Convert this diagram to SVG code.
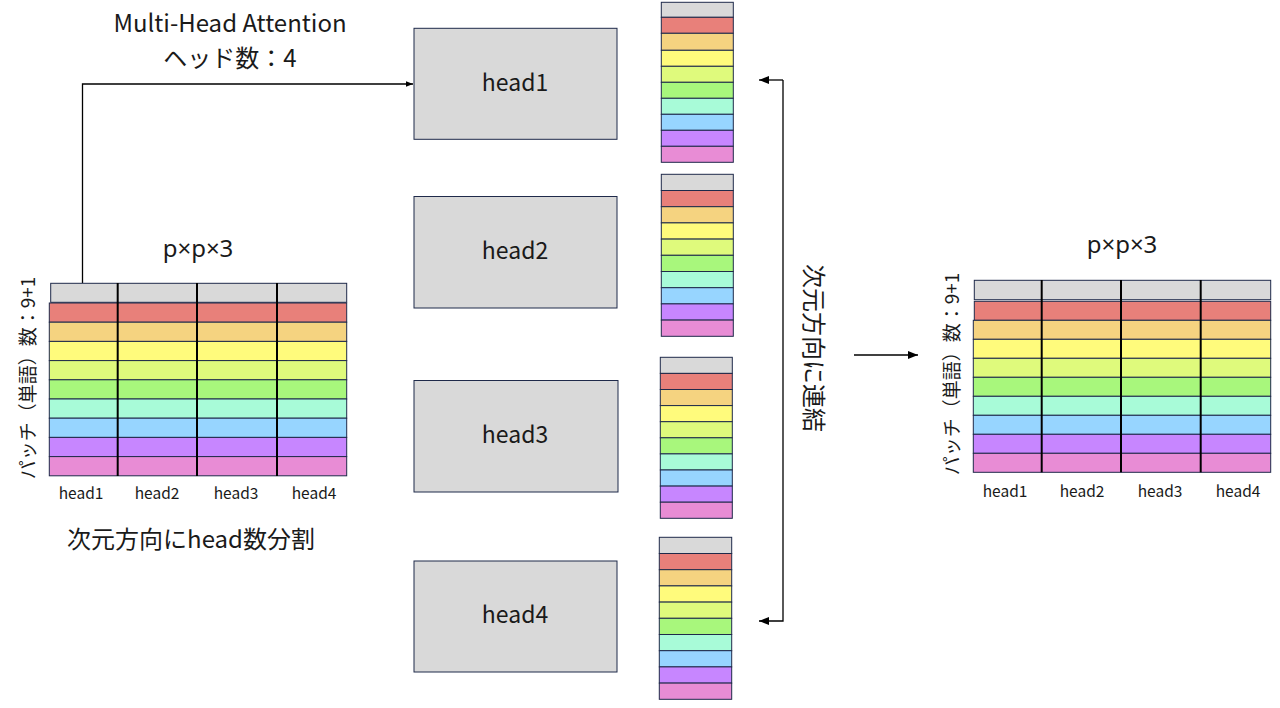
<svg xmlns="http://www.w3.org/2000/svg" width="1280" height="708" viewBox="0 0 1280 708">
<style>
text{font-family:"Noto Sans CJK JP","Noto Sans",sans-serif;fill:#1a1a1a}
.box{fill:#d9d9d9;stroke:#1f2a4a;stroke-width:1}
.c{stroke:#1f2a4a;stroke-width:1}
.g{fill:#d9d9d9}.r1{fill:#e8807a}.r2{fill:#f5d380}.r3{fill:#fffb7c}.r4{fill:#dffa7c}.r5{fill:#a8f77c}.r6{fill:#a8fbd8}.r7{fill:#97d5ff}.r8{fill:#c786ff}.r9{fill:#e88cd5}
.sep{stroke:#000;stroke-width:2}
.conn{fill:none;stroke:#000;stroke-width:1.3}
.lbl{font-size:15.5px}
.big{font-size:24px}
.hd{font-size:23px}
.ppx{font-family:"Noto Sans",sans-serif;font-size:24px}
.vt{font-size:19px}
</style>
<defs>
<marker id="ah" viewBox="0 0 10 10" refX="10" refY="5" markerWidth="7" markerHeight="7" orient="auto" markerUnits="userSpaceOnUse">
<path d="M0,1 L10,5 L0,9 Z" fill="#000"/>
</marker>
<marker id="ah2" viewBox="0 0 10 10" refX="10" refY="5" markerWidth="10" markerHeight="10" orient="auto" markerUnits="userSpaceOnUse">
<path d="M0,1 L10,5 L0,9 Z" fill="#000"/>
</marker>
</defs>

<text x="230" y="32" text-anchor="middle" class="big">Multi-Head Attention</text>
<text x="230" y="67" text-anchor="middle" class="big">ヘッド数：4</text>

<g id="connectors">
<polyline class="conn" points="82.5,283 82.5,84 413,84" marker-end="url(#ah)"/>
<polyline class="conn" points="783,80 783,621 759,621" marker-end="url(#ah2)"/>
<line class="conn" x1="783" y1="80" x2="759" y2="80" marker-end="url(#ah2)"/>
<line class="conn" x1="854" y1="355" x2="918" y2="355" marker-end="url(#ah2)"/>
</g>

<g id="input-table">
<text x="198" y="257" text-anchor="middle" class="ppx">p×p×3</text>
<text transform="translate(35,378) rotate(-90)" text-anchor="middle" class="vt">パッチ（単語）数：9+1</text>
<rect class="c g" x="50.7" y="283.3" width="296" height="19"/>
<rect class="c r1" x="49.3" y="303" width="297.4" height="19.2"/>
<rect class="c r2" x="49.3" y="322.2" width="297.4" height="19.2"/>
<rect class="c r3" x="49.3" y="341.4" width="297.4" height="19.2"/>
<rect class="c r4" x="49.3" y="360.6" width="297.4" height="19.2"/>
<rect class="c r5" x="49.3" y="379.8" width="297.4" height="19.2"/>
<rect class="c r6" x="49.3" y="399" width="297.4" height="19.2"/>
<rect class="c r7" x="49.3" y="418.2" width="297.4" height="19.2"/>
<rect class="c r8" x="49.3" y="437.4" width="297.4" height="19.2"/>
<rect class="c r9" x="49.3" y="456.6" width="297.4" height="19.2"/>
<line class="sep" x1="117.7" y1="283" x2="117.7" y2="476"/>
<line class="sep" x1="197" y1="283" x2="197" y2="476"/>
<line class="sep" x1="277" y1="283" x2="277" y2="476"/>
<text x="81" y="499" text-anchor="middle" class="lbl">head1</text>
<text x="157" y="499" text-anchor="middle" class="lbl">head2</text>
<text x="236" y="499" text-anchor="middle" class="lbl">head3</text>
<text x="314" y="499" text-anchor="middle" class="lbl">head4</text>
<text x="191" y="548" text-anchor="middle" class="big">次元方向にhead数分割</text>
</g>

<g id="head1"><rect class="box" x="414" y="28.3" width="203" height="111"/><text x="515" y="91" text-anchor="middle" class="hd">head1</text></g>
<g id="head2"><rect class="box" x="414" y="196.5" width="203" height="111.5"/><text x="515" y="259" text-anchor="middle" class="hd">head2</text></g>
<g id="head3"><rect class="box" x="414" y="380.5" width="204" height="111.5"/><text x="515" y="443" text-anchor="middle" class="hd">head3</text></g>
<g id="head4"><rect class="box" x="414" y="561" width="203" height="111"/><text x="515" y="623" text-anchor="middle" class="hd">head4</text></g>

<g id="stack1" transform="translate(661.3,2.3)">
<rect class="c g" x="0" y="0" width="72" height="15"/>
<rect class="c r1" x="0" y="15" width="72" height="16"/>
<rect class="c r2" x="0" y="31" width="72" height="17"/>
<rect class="c r3" x="0" y="48" width="72" height="16"/>
<rect class="c r4" x="0" y="64" width="72" height="16"/>
<rect class="c r5" x="0" y="80" width="72" height="16"/>
<rect class="c r6" x="0" y="96" width="72" height="16"/>
<rect class="c r7" x="0" y="112" width="72" height="16"/>
<rect class="c r8" x="0" y="128" width="72" height="16"/>
<rect class="c r9" x="0" y="144" width="72" height="16"/>
</g>
<g id="stack2" transform="translate(661.3,174.3)">
<rect class="c g" x="0" y="0" width="72" height="16.2"/>
<rect class="c r1" x="0" y="16.2" width="72" height="16.2"/>
<rect class="c r2" x="0" y="32.4" width="72" height="16.2"/>
<rect class="c r3" x="0" y="48.6" width="72" height="16.2"/>
<rect class="c r4" x="0" y="64.8" width="72" height="16.2"/>
<rect class="c r5" x="0" y="81" width="72" height="16.2"/>
<rect class="c r6" x="0" y="97.2" width="72" height="16.2"/>
<rect class="c r7" x="0" y="113.4" width="72" height="16.2"/>
<rect class="c r8" x="0" y="129.6" width="72" height="16.2"/>
<rect class="c r9" x="0" y="145.8" width="72" height="16.2"/>
</g>
<g id="stack3" transform="translate(660.3,357.3)">
<rect class="c g" x="0" y="0" width="72" height="16.1"/>
<rect class="c r1" x="0" y="16.1" width="72" height="16.1"/>
<rect class="c r2" x="0" y="32.2" width="72" height="16.1"/>
<rect class="c r3" x="0" y="48.3" width="72" height="16.1"/>
<rect class="c r4" x="0" y="64.4" width="72" height="16.1"/>
<rect class="c r5" x="0" y="80.5" width="72" height="16.1"/>
<rect class="c r6" x="0" y="96.6" width="72" height="16.1"/>
<rect class="c r7" x="0" y="112.7" width="72" height="16.1"/>
<rect class="c r8" x="0" y="128.8" width="72" height="16.1"/>
<rect class="c r9" x="0" y="144.9" width="72" height="16.1"/>
</g>
<g id="stack4" transform="translate(659.3,537.3)">
<rect class="c g" x="0" y="0" width="72.4" height="16.2"/>
<rect class="c r1" x="0" y="16.2" width="72.4" height="16.2"/>
<rect class="c r2" x="0" y="32.4" width="72.4" height="16.2"/>
<rect class="c r3" x="0" y="48.6" width="72.4" height="16.2"/>
<rect class="c r4" x="0" y="64.8" width="72.4" height="16.2"/>
<rect class="c r5" x="0" y="81" width="72.4" height="16.2"/>
<rect class="c r6" x="0" y="97.2" width="72.4" height="16.2"/>
<rect class="c r7" x="0" y="113.4" width="72.4" height="16.2"/>
<rect class="c r8" x="0" y="129.6" width="72.4" height="16.2"/>
<rect class="c r9" x="0" y="145.8" width="72.4" height="16.2"/>
</g>

<text transform="translate(805,348) rotate(90)" text-anchor="middle" class="big">次元方向に連結</text>

<g id="output-table">
<text x="1122" y="253" text-anchor="middle" class="ppx">p×p×3</text>
<text transform="translate(959,374) rotate(-90)" text-anchor="middle" class="vt">パッチ（単語）数：9+1</text>
<rect class="c g" x="974.3" y="280.3" width="296.4" height="19.4"/>
<rect class="c r1" x="974.3" y="301.3" width="296.4" height="19"/>
<rect class="c r2" x="973.3" y="320.3" width="297.4" height="19"/>
<rect class="c r3" x="973.3" y="339.3" width="297.4" height="19"/>
<rect class="c r4" x="973.3" y="358.3" width="297.4" height="19"/>
<rect class="c r5" x="973.3" y="377.3" width="297.4" height="19"/>
<rect class="c r6" x="973.3" y="396.3" width="297.4" height="19"/>
<rect class="c r7" x="973.3" y="415.3" width="297.4" height="19"/>
<rect class="c r8" x="973.3" y="434.3" width="297.4" height="19"/>
<rect class="c r9" x="973.3" y="453.3" width="297.4" height="19"/>
<line class="sep" x1="1041.7" y1="280" x2="1041.7" y2="472.3"/>
<line class="sep" x1="1121" y1="280" x2="1121" y2="472.3"/>
<line class="sep" x1="1200.7" y1="280" x2="1200.7" y2="472.3"/>
<text x="1005" y="497" text-anchor="middle" class="lbl">head1</text>
<text x="1082" y="497" text-anchor="middle" class="lbl">head2</text>
<text x="1160" y="497" text-anchor="middle" class="lbl">head3</text>
<text x="1238" y="497" text-anchor="middle" class="lbl">head4</text>
</g>
</svg>
